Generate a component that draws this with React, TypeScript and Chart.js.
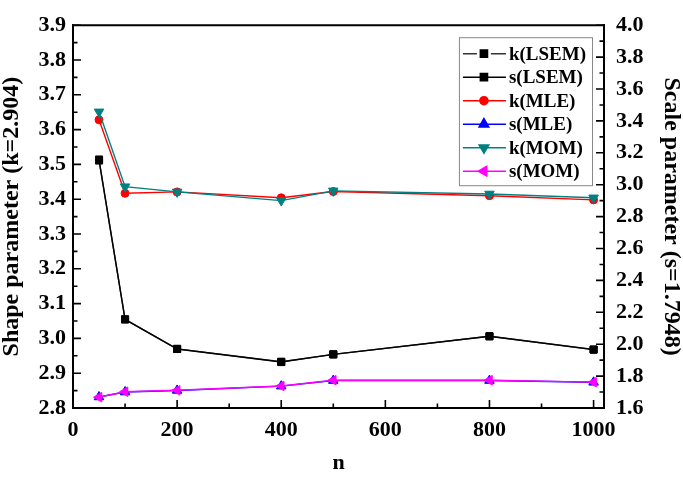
import { useEffect, useRef } from "react";
import { Chart, registerables } from "chart.js";
import { drawPoint } from "chart.js/helpers";

Chart.register(...registerables);

// Sample sizes and estimated parameters
const sampleSizes = [50, 100, 200, 400, 500, 800, 1000];
const kLSEM = [3.511, 3.055, 2.97, 2.933, 2.954, 3.006, 2.968];
const sLSEM = [3.158, 2.155, 1.97, 1.888, 1.936, 2.05, 1.966];
const kMLE = [3.628, 3.417, 3.421, 3.404, 3.422, 3.41, 3.398];
const sMLE = [1.669, 1.7, 1.71, 1.737, 1.772, 1.772, 1.761];
const kMOM = [3.651, 3.436, 3.421, 3.396, 3.424, 3.415, 3.404];
const sMOM = [1.668, 1.702, 1.711, 1.738, 1.774, 1.774, 1.762];

// Axis tick values
const nTicks = [0, 200, 400, 600, 800, 1000];
const kTicks = [2.8, 2.9, 3.0, 3.1, 3.2, 3.3, 3.4, 3.5, 3.6, 3.7, 3.8, 3.9];
const sTicks = [1.6, 1.8, 2.0, 2.2, 2.4, 2.6, 2.8, 3.0, 3.2, 3.4, 3.6, 3.8, 4.0];

const SERIF = "'Times New Roman', 'Liberation Serif', 'DejaVu Serif', serif";

const toPoints = (ys: number[]) => sampleSizes.map((x, i) => ({ x, y: ys[i] }));

const midpoints = (vals: number[]) =>
  vals.slice(0, -1).map((v, i) => (v + vals[i + 1]) / 2);

// Inward ticks, top frame line and the boxed legend
const decorations = {
  id: "decorations",
  afterDatasetsDraw(chart: any) {
    const { ctx, chartArea: a, scales } = chart;
    const x = scales.x;
    const y = scales.y;
    const y2 = scales.y2;
    ctx.save();
    ctx.strokeStyle = "#000";
    ctx.lineWidth = 2;
    ctx.beginPath();
    ctx.moveTo(a.left - 1, a.top);
    ctx.lineTo(a.right + 1, a.top);
    ctx.stroke();

    const major = 8;
    const minor = 4.5;
    ctx.lineWidth = 1.6;
    ctx.beginPath();
    for (const v of kTicks) {
      const p = y.getPixelForValue(v);
      ctx.moveTo(a.left, p);
      ctx.lineTo(a.left + major, p);
    }
    for (const v of midpoints(kTicks)) {
      const p = y.getPixelForValue(v);
      ctx.moveTo(a.left, p);
      ctx.lineTo(a.left + minor, p);
    }
    for (const v of sTicks) {
      const p = y2.getPixelForValue(v);
      ctx.moveTo(a.right, p);
      ctx.lineTo(a.right - major, p);
    }
    for (const v of midpoints(sTicks)) {
      const p = y2.getPixelForValue(v);
      ctx.moveTo(a.right, p);
      ctx.lineTo(a.right - minor, p);
    }
    for (const v of nTicks) {
      const p = x.getPixelForValue(v);
      ctx.moveTo(p, a.bottom);
      ctx.lineTo(p, a.bottom - major);
    }
    for (const v of midpoints(nTicks)) {
      const p = x.getPixelForValue(v);
      ctx.moveTo(p, a.bottom);
      ctx.lineTo(p, a.bottom - minor);
    }
    ctx.stroke();

    // Legend
    const datasets = chart.data.datasets;
    ctx.font = `bold 19px ${SERIF}`;
    const textW = Math.max(...datasets.map((d: any) => ctx.measureText(d.label).width));
    const rowH = 23.5;
    const boxW = 50 + textW + 6;
    const boxH = datasets.length * rowH + 7;
    const bx = a.right - 12 - boxW;
    const by = a.top + 12;
    ctx.fillStyle = "#fff";
    ctx.fillRect(bx, by, boxW, boxH);
    ctx.strokeStyle = "#888";
    ctx.lineWidth = 1;
    ctx.strokeRect(bx + 0.5, by + 0.5, boxW, boxH);
    datasets.forEach((d: any, i: number) => {
      const cy = by + 16.5 + i * rowH;
      const mx = bx + 25;
      ctx.strokeStyle = d.borderColor;
      ctx.lineWidth = 1.6;
      ctx.beginPath();
      if (i === 0) {
        ctx.moveTo(bx + 4, cy);
        ctx.lineTo(mx - 7, cy);
        ctx.moveTo(mx + 7, cy);
        ctx.lineTo(bx + 47, cy);
      } else {
        ctx.moveTo(bx + 4, cy);
        ctx.lineTo(bx + 47, cy);
      }
      ctx.stroke();
      ctx.fillStyle = d.pointBackgroundColor;
      ctx.strokeStyle = d.pointBorderColor;
      drawPoint(
        ctx,
        {
          pointStyle: d.pointStyle,
          rotation: d.pointRotation || 0,
          radius: d.pointRadius,
          borderWidth: 1,
        },
        mx,
        cy
      );
      ctx.fillStyle = "#000";
      ctx.textAlign = "left";
      ctx.textBaseline = "middle";
      ctx.fillText(d.label, bx + 50, cy + 1);
    });
    ctx.restore();
  },
};

const series = [
  { label: "k(LSEM)", data: kLSEM, axis: "y", color: "#333333", point: "#000", style: "rect", r: 5, rot: 0 },
  { label: "s(LSEM)", data: sLSEM, axis: "y2", color: "#000000", point: "#000", style: "rect", r: 5, rot: 0 },
  { label: "k(MLE)", data: kMLE, axis: "y", color: "#ff0000", point: "#ff0000", style: "circle", r: 4, rot: 0 },
  { label: "s(MLE)", data: sMLE, axis: "y2", color: "#0000ff", point: "#0000ff", style: "triangle", r: 5.5, rot: 0 },
  { label: "k(MOM)", data: kMOM, axis: "y", color: "#008080", point: "#008080", style: "triangle", r: 5.5, rot: 180 },
  { label: "s(MOM)", data: sMOM, axis: "y2", color: "#ff00ff", point: "#ff00ff", style: "triangle", r: 5.5, rot: 270 },
];

export default function App() {
  const canvasRef = useRef<HTMLCanvasElement | null>(null);

  useEffect(() => {
    if (!canvasRef.current) return;
    const tickFont = { family: SERIF, size: 22, weight: "bold" as const };
    const titleFont = { family: SERIF, size: 24, weight: "bold" as const };
    const chart = new Chart(canvasRef.current, {
      type: "line",
      data: {
        datasets: series.map((s, i) => ({
          label: s.label,
          data: toPoints(s.data),
          yAxisID: s.axis,
          borderColor: s.color,
          backgroundColor: s.color,
          borderWidth: 1.4,
          pointStyle: s.style as any,
          pointRotation: s.rot,
          pointRadius: s.r,
          pointBorderWidth: 1,
          pointBackgroundColor: s.point,
          pointBorderColor: s.point,
          tension: 0,
          order: series.length - i,
        })),
      },
      options: {
        responsive: false,
        animation: false,
        devicePixelRatio: 1,
        layout: { padding: { top: 15, left: 0, right: 0, bottom: 0 } },
        plugins: { legend: { display: false }, tooltip: { enabled: false } },
        scales: {
          x: {
            type: "linear",
            min: 0,
            max: 1020,
            grid: { display: false, drawTicks: false },
            border: { display: true, color: "#000", width: 2 },
            afterBuildTicks: (scale: any) => {
              scale.ticks = nTicks.map((value) => ({ value }));
            },
            afterFit: (scale: any) => {
              scale.height = 70;
            },
            ticks: {
              color: "#000",
              font: tickFont,
              padding: 9,
              maxRotation: 0,
              callback: (v: any) => String(v),
            },
            title: {
              display: true,
              text: "n",
              color: "#000",
              font: { ...titleFont, size: 22 },
              padding: { top: 0, bottom: 1 },
            },
          },
          y: {
            type: "linear",
            position: "left",
            min: 2.8,
            max: 3.9,
            grid: { display: false, drawTicks: false },
            border: { display: true, color: "#000", width: 2 },
            afterBuildTicks: (scale: any) => {
              scale.ticks = kTicks.map((value) => ({ value }));
            },
            afterFit: (scale: any) => {
              scale.width = 73;
            },
            ticks: {
              color: "#000",
              font: tickFont,
              padding: 7,
              callback: (v: any) => Number(v).toFixed(1),
            },
            title: {
              display: true,
              text: "Shape parameter (k=2.904)",
              color: "#000",
              font: { ...titleFont, lineHeight: 1 },
              padding: { top: 0, bottom: 0 },
            },
          },
          y2: {
            type: "linear",
            position: "right",
            min: 1.6,
            max: 4.0,
            grid: { display: false, drawTicks: false },
            border: { display: true, color: "#000", width: 2 },
            afterBuildTicks: (scale: any) => {
              scale.ticks = sTicks.map((value) => ({ value }));
            },
            afterFit: (scale: any) => {
              scale.width = 79;
            },
            ticks: {
              color: "#000",
              font: tickFont,
              padding: 12,
              callback: (v: any) => Number(v).toFixed(1),
            },
            title: {
              display: true,
              text: "Scale parameter (s=1.7948)",
              color: "#000",
              font: { ...titleFont, lineHeight: 1 },
              padding: { top: 0, bottom: 0 },
            },
          },
        },
      },
      plugins: [decorations],
    });
    return () => chart.destroy();
  }, []);

  return (
    <div style={{ position: "absolute", left: 0, top: 0, width: 683, height: 478, background: "#fff" }}>
      <canvas ref={canvasRef} width={683} height={478} />
    </div>
  );
}
